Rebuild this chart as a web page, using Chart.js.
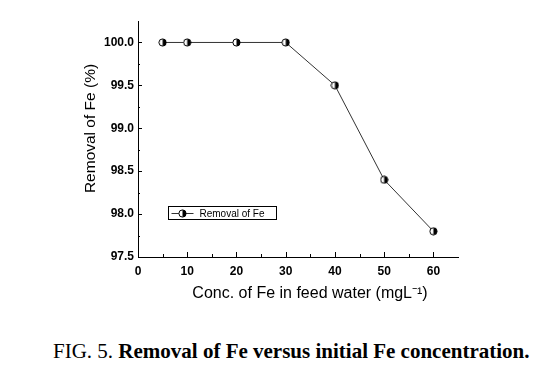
<!DOCTYPE html>
<html>
<head>
<meta charset="utf-8">
<script src="https://cdn.jsdelivr.net/npm/chart.js@4.4.0/dist/chart.umd.min.js"></script>
<style>
  html, body { margin: 0; padding: 0; background: #fff; }
  #wrap { position: relative; width: 557px; height: 388px; }
  #c { position: absolute; left: 0; top: 0; }
  #caption { position: absolute; left: 53px; top: 338px; font-family: "Liberation Serif", "Times New Roman", serif; font-size: 21px; line-height: 26px; color: #000; white-space: nowrap; }
</style>
</head>
<body>
<div id="wrap">
  <canvas id="c" width="557" height="310"></canvas>
  <div id="caption">FIG. 5. <b>Removal of Fe versus initial Fe concentration.</b></div>
</div>
<script>
const concentrations = [5, 10, 20, 30, 40, 50, 60];
const removalFe = [100.0, 100.0, 100.0, 100.0, 99.5, 98.4, 97.8];
const seriesLabel = "Removal of Fe";
const xTitle = "Conc. of Fe in feed water (mgL\u207B\u00B9)";
const yTitle = "Removal of Fe (%)";

function halfMarker() {
  const c = document.createElement('canvas');
  c.width = 9; c.height = 9;
  const g = c.getContext('2d');
  g.beginPath(); g.arc(4.5, 4.5, 3.6, 0, Math.PI * 2); g.fillStyle = '#fff'; g.fill();
  g.beginPath(); g.moveTo(4.5, 0.9); g.arc(4.5, 4.5, 3.6, -Math.PI / 2, Math.PI / 2); g.closePath(); g.fillStyle = '#000'; g.fill();
  g.beginPath(); g.arc(4.5, 4.5, 3.6, 0, Math.PI * 2); g.strokeStyle = '#000'; g.lineWidth = 1; g.stroke();
  return c;
}
const marker = halfMarker();
const sans = '"Liberation Sans", Arial, sans-serif';

const decorations = {
  id: 'decorations',
  afterDraw(chart) {
    const ctx = chart.ctx;
    const x = chart.scales.x, y = chart.scales.y;
    const a = chart.chartArea;
    ctx.save();
    ctx.strokeStyle = '#000'; ctx.lineWidth = 1;
    ctx.beginPath();
    x.ticks.forEach((t) => {
      const px = Math.round(x.getPixelForValue(t.value)) + 0.5;
      ctx.moveTo(px, a.bottom); ctx.lineTo(px, a.bottom - 5);
      const mv = t.value + 5;
      if (mv < x.max) {
        const mx = Math.round(x.getPixelForValue(mv)) + 0.5;
        ctx.moveTo(mx, a.bottom); ctx.lineTo(mx, a.bottom - 3);
      }
    });
    y.ticks.forEach((t) => {
      const py = Math.round(y.getPixelForValue(t.value)) + 0.5;
      ctx.moveTo(a.left, py); ctx.lineTo(a.left + 4, py);
      const mv = t.value + 0.25;
      if (mv < y.max) {
        const my = Math.round(y.getPixelForValue(mv)) + 0.5;
        ctx.moveTo(a.left, my); ctx.lineTo(a.left + 2, my);
      }
    });
    ctx.stroke();

    // legend box inside plot
    const lx0 = Math.round(x.getPixelForValue(6.1)) + 0.5;
    const lx1 = Math.round(x.getPixelForValue(28.1)) + 0.5;
    const cy = Math.round(y.getPixelForValue(98.01));
    ctx.strokeRect(lx0, cy - 6.5, lx1 - lx0, 13);
    ctx.strokeStyle = '#333';
    ctx.beginPath(); ctx.moveTo(lx0 + 3, cy + 0.5); ctx.lineTo(lx0 + 25, cy + 0.5); ctx.stroke();
    ctx.drawImage(marker, lx0 + 14 - 4.5, cy + 0.5 - 4.5);
    ctx.fillStyle = '#000';
    ctx.font = '10px ' + sans;
    ctx.textBaseline = 'middle';
    ctx.textAlign = 'left';
    ctx.fillText(seriesLabel, lx0 + 31, cy + 1);

    // axis titles
    ctx.textAlign = 'center';
    ctx.font = '16px ' + sans;
    ctx.fillText(xTitle, (a.left + a.right) / 2 + 12, a.bottom + 37);
    ctx.save();
    ctx.translate(a.left - 47, (a.top + a.bottom) / 2 - 10.5);
    ctx.rotate(-Math.PI / 2);
    ctx.font = '15.5px ' + sans;
    ctx.fillText(yTitle, 0, 0);
    ctx.restore();
    ctx.restore();
  }
};

new Chart(document.getElementById('c'), {
  type: 'scatter',
  data: {
    datasets: [{
      label: seriesLabel,
      data: concentrations.map((c, i) => ({ x: c, y: removalFe[i] })),
      showLine: true,
      borderColor: '#333',
      borderWidth: 1,
      pointStyle: marker,
      pointRadius: 4,
      pointHoverRadius: 4
    }]
  },
  options: {
    responsive: false,
    animation: false,
    events: [],
    layout: { padding: { left: 78, top: 21, right: 99, bottom: 0 } },
    plugins: { legend: { display: false }, tooltip: { enabled: false } },
    scales: {
      x: {
        type: 'linear', min: 0, max: 65,
        grid: { display: false, drawTicks: false },
        border: { display: true, color: '#000', width: 1 },
        ticks: { stepSize: 10, includeBounds: false, padding: 7, color: '#000',
                 font: { family: sans, size: 12, weight: 'bold' } },
        title: { display: false },
        afterFit(s) { s.height = 53; }
      },
      y: {
        type: 'linear', min: 97.5, max: 100.25,
        grid: { display: false, drawTicks: false },
        border: { display: true, color: '#000', width: 1 },
        ticks: { stepSize: 0.5, includeBounds: false, padding: 4, color: '#000',
                 callback: v => Number(v).toFixed(1),
                 font: { family: sans, size: 12, weight: 'bold' } },
        title: { display: false },
        afterFit(s) { s.width = 60; }
      }
    }
  },
  plugins: [decorations]
});
</script>
</body>
</html>
